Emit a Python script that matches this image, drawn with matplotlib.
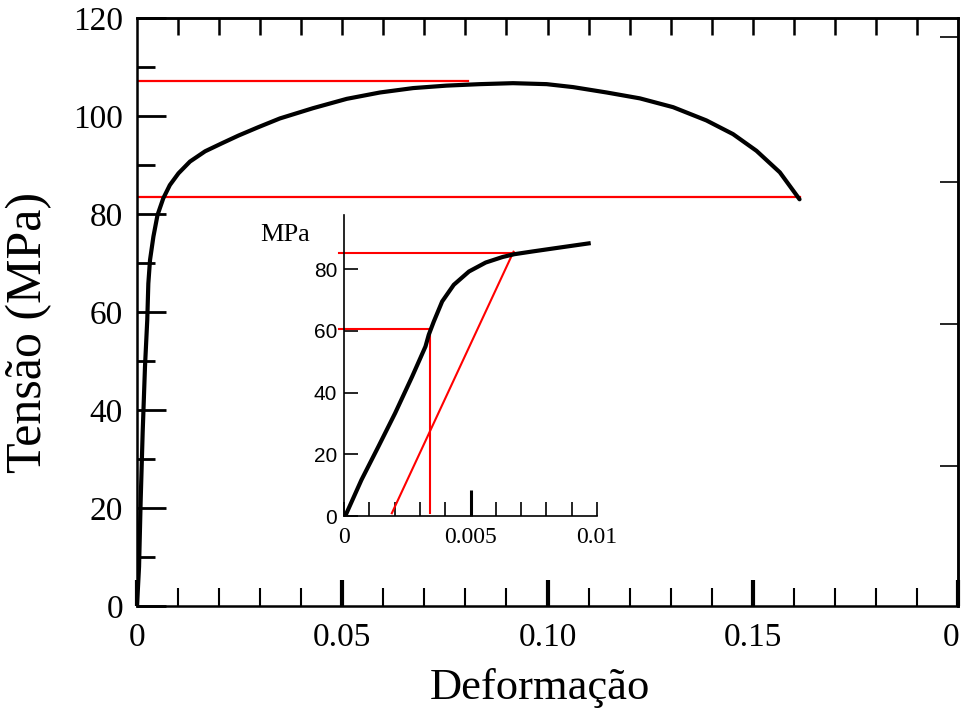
import matplotlib
matplotlib.use("Agg")
import matplotlib.pyplot as plt

# ---- main curve (strain, stress MPa) ----
main_strain = [0.0, 0.0005, 0.0009, 0.00138, 0.00195, 0.0025, 0.00276, 0.00317, 0.0040,
               0.0050, 0.0064, 0.0080, 0.0101, 0.0129, 0.0166, 0.0206, 0.0247, 0.0295,
               0.0348, 0.0429, 0.0511, 0.0592, 0.0673, 0.0754, 0.0835, 0.0916, 0.0998,
               0.1062, 0.1144, 0.1225, 0.1306, 0.1387, 0.1452, 0.1509, 0.1566, 0.1614]
main_stress = [0, 8, 21.7, 35.4, 48.9, 58.4, 65.8, 70.6, 75.4,
               79.8, 83.2, 85.9, 88.3, 90.7, 92.8, 94.4, 96.0, 97.7,
               99.5, 101.6, 103.5, 104.8, 105.7, 106.2, 106.5, 106.7, 106.5,
               105.9, 104.8, 103.6, 101.8, 99.1, 96.3, 92.9, 88.5, 83.0]

# red reference lines in main plot
main_uts = 107.2
main_uts_x_end = 0.0806
main_break = 83.4
main_break_x_end = 0.1614

# ---- inset curve ----
ins_strain = [0.00005, 0.00069, 0.00136, 0.00202, 0.00269, 0.00322, 0.00335, 0.00355,
              0.00388, 0.00434, 0.00494, 0.0056, 0.00627, 0.00673, 0.00746, 0.00839, 0.00967]
ins_stress = [0, 11.7, 22.5, 33.3, 45.1, 54.9, 58.7, 63.0,
              69.5, 74.9, 79.2, 82.1, 83.9, 84.8, 85.7, 86.8, 88.3]

ins_yield = 85.2          # offset yield stress
ins_yield_x = 0.0067
ins_prop = 60.5           # proportional limit
ins_prop_x = 0.00339
ins_offset_start = (0.00189, 0.9)
ins_offset_end = (0.0067, 85.6)

# ticks / labels
x_major = [0, 0.05, 0.10, 0.15, 0.20]
x_major_labels = ['0', '0.05', '0.10', '0.15', '']
right_edge_label = '0'
x_minor = [0.01, 0.02, 0.03, 0.04, 0.06, 0.07, 0.08, 0.09, 0.11, 0.12, 0.13, 0.14,
           0.16, 0.17, 0.18, 0.19]
top_ticks = [0.01 * i for i in range(1, 20)]
y_major = [0, 20, 40, 60, 80, 100, 120]
y_minor = [10, 30, 50, 70, 90, 110]
right_ticks = [28.6, 57.5, 86.5, 116.2]

ins_x_major = [0.005]
ins_x_major_labels = ['0.005']
ins_x_minor = [0, 0.001, 0.002, 0.003, 0.004, 0.006, 0.007, 0.008, 0.009, 0.01]
ins_x_minor_labels = ['0', '', '', '', '', '', '', '', '', '0.01']
ins_y_major = [0, 20, 40, 60, 80]

serif = 'Liberation Serif'
sans = 'Liberation Sans'

fig = plt.figure(figsize=(9.61, 7.14), dpi=100)
ax = fig.add_axes([137/961, (714-606)/714, 821/961, 588/714])
ax.plot(main_strain, main_stress, color='black', lw=3.0, solid_capstyle='round',
        solid_joinstyle='round', zorder=3)
ax.plot([0, main_uts_x_end], [main_uts, main_uts], color='red', lw=1.6, zorder=2)
ax.plot([0, main_break_x_end], [main_break, main_break], color='red', lw=1.6, zorder=2)
ax.set_xlim(0, 0.2)
ax.set_ylim(0, 120)
for s in ax.spines.values():
    s.set_linewidth(1.8)

ax.set_xticks(x_major)
ax.set_xticklabels(x_major_labels, fontfamily=serif, fontsize=24)
ax.set_xticks(x_minor, minor=True)
ax.set_yticks(y_major)
ax.set_yticklabels([str(v) for v in y_major], fontfamily=serif, fontsize=24)
ax.set_yticks(y_minor, minor=True)
ax.tick_params(axis='x', which='major', direction='in', length=19, width=3, pad=12)
ax.tick_params(axis='x', which='minor', direction='in', length=13, width=1.5)
ax.tick_params(axis='y', which='major', direction='in', length=21, width=2, pad=10)
ax.tick_params(axis='y', which='minor', direction='in', length=13, width=2)
fig.text(951/961, 1 - 638/714, right_edge_label, fontfamily=serif, fontsize=24,
         ha='center', va='center')

top = ax.secondary_xaxis('top')
top.set_xticks(top_ticks)
top.set_xticklabels([])
top.tick_params(direction='in', length=12, width=1.8)
top.spines['top'].set_linewidth(1.8)
right = ax.secondary_yaxis('right')
right.set_yticks(right_ticks)
right.set_yticklabels([])
right.tick_params(direction='in', length=13, width=1.2)
right.spines['right'].set_linewidth(1.8)

ax.set_xlabel('Deformação', fontfamily=serif, fontsize=32)
ax.xaxis.set_label_coords((540 - 137) / 821, -(668 - 606) / 588)
ax.set_ylabel('Tensão (MPa)', fontfamily=serif, fontsize=36)
ax.yaxis.set_label_coords(-(137 - 52) / 821, (606 - 332) / 588)

# ---- inset ----
ins = fig.add_axes([344/961, (714-516)/714, 253/961, 301/714])
ins.patch.set_alpha(0)
ins.plot(ins_strain, ins_stress, color='black', lw=3.0, solid_joinstyle='round', zorder=3)
ins.plot([-0.0002, ins_yield_x], [ins_yield, ins_yield], color='red', lw=1.5, clip_on=False)
ins.plot([-0.0002, ins_prop_x + 0.00004], [ins_prop, ins_prop], color='red', lw=1.5, clip_on=False)
ins.plot([ins_prop_x, ins_prop_x], [ins_prop, ins_offset_start[1]], color='red', lw=1.5)
ins.plot([ins_offset_start[0], ins_offset_end[0]], [ins_offset_start[1], ins_offset_end[1]],
         color='red', lw=1.5)
ins.set_xlim(0, 0.01)
ins.set_ylim(0, 97.5)
ins.spines['top'].set_visible(False)
ins.spines['right'].set_visible(False)
ins.spines['left'].set_linewidth(1.2)
ins.spines['bottom'].set_linewidth(1.2)
ins.set_xticks(ins_x_major)
ins.set_xticklabels(ins_x_major_labels, fontfamily=serif, fontsize=17)
ins.set_xticks(ins_x_minor, minor=True)
ins.set_xticklabels(ins_x_minor_labels, minor=True, fontfamily=serif, fontsize=17)
ins.set_yticks(ins_y_major)
ins.set_yticklabels([str(v) for v in ins_y_major], fontfamily=sans, fontsize=15)
ins.tick_params(axis='x', which='major', direction='in', length=19, width=2.2, pad=8)
ins.tick_params(axis='x', which='minor', direction='in', length=10, width=1.2, pad=8)
ins.tick_params(axis='y', which='major', direction='in', length=10, width=1.2, pad=5)
ins.text(-0.0033, 94.5, 'MPa', fontfamily=serif, fontsize=19, ha='left', va='top')

fig.savefig('out.png', dpi=100)
